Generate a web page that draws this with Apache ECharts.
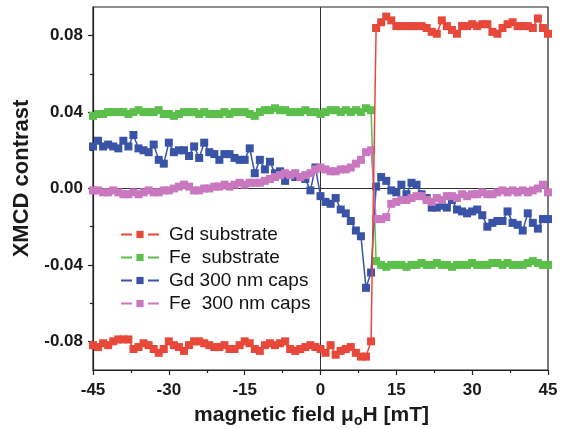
<!DOCTYPE html>
<html>
<head>
<meta charset="utf-8">
<script src="https://cdn.jsdelivr.net/npm/echarts@6/dist/echarts.min.js"></script>
<style>
  html, body { margin: 0; padding: 0; background: #fff; }
  #chart { width: 569px; height: 429px; }
</style>
</head>
<body>
<div id="chart"></div>
<script>
// Applied field (mT)
const field = [
  -45, -44, -43, -42, -41, -40, -39, -38, -37, -36, -35, -34, -33, -32, -31, -30,
  -29, -28, -27, -26, -25, -24, -23, -22, -21, -20, -19, -18, -17, -16, -15, -14,
  -13, -12, -11, -10, -9, -8, -7, -6, -5, -4, -3, -2, -1, 0,
  1, 2, 3, 4, 5, 6, 7, 8, 9, 10, 11, 12, 13, 14, 15, 16,
  17, 18, 19, 20, 21, 22, 23, 24, 25, 26, 27, 28, 29, 30, 31, 32,
  33, 34, 35, 36, 37, 38, 39, 40, 41, 42, 43, 44, 45
];

// XMCD contrast, Gd edge, substrate
const gdSubstrate = [
  -0.082, -0.083, -0.081, -0.082, -0.080, -0.079, -0.079, -0.079, -0.084, -0.083, -0.081, -0.082, -0.084, -0.086, -0.084, -0.080,
  -0.082, -0.083, -0.085, -0.082, -0.080, -0.080, -0.081, -0.082, -0.083, -0.083, -0.082, -0.084, -0.084, -0.082, -0.080, -0.081,
  -0.084, -0.085, -0.082, -0.081, -0.082, -0.081, -0.080, -0.084, -0.085, -0.084, -0.083, -0.082, -0.083, -0.084,
  -0.086, -0.082, -0.087, -0.085, -0.084, -0.083, -0.086, -0.088, -0.088, -0.080, 0.084, 0.087, 0.090, 0.088, 0.085, 0.085,
  0.085, 0.085, 0.085, 0.085, 0.084, 0.082, 0.081, 0.088, 0.085, 0.083, 0.081, 0.085, 0.085, 0.086, 0.085, 0.086,
  0.086, 0.082, 0.081, 0.084, 0.086, 0.087, 0.085, 0.085, 0.085, 0.084, 0.089, 0.084, 0.081
];

// XMCD contrast, Fe edge, substrate
const feSubstrate = [
  0.038, 0.039, 0.039, 0.040, 0.040, 0.040, 0.040, 0.039, 0.040, 0.041, 0.040, 0.040, 0.040, 0.041, 0.039, 0.039,
  0.038, 0.039, 0.040, 0.040, 0.040, 0.039, 0.040, 0.039, 0.039, 0.039, 0.040, 0.039, 0.040, 0.040, 0.040, 0.039,
  0.038, 0.040, 0.041, 0.041, 0.042, 0.041, 0.041, 0.040, 0.040, 0.040, 0.041, 0.040, 0.040, 0.039,
  0.040, 0.041, 0.041, 0.040, 0.041, 0.040, 0.041, 0.040, 0.042, 0.041, -0.038, -0.040, -0.041, -0.040, -0.040, -0.040,
  -0.041, -0.040, -0.040, -0.039, -0.040, -0.040, -0.039, -0.040, -0.040, -0.041, -0.040, -0.040, -0.040, -0.039, -0.040, -0.040,
  -0.040, -0.039, -0.039, -0.040, -0.039, -0.040, -0.040, -0.040, -0.039, -0.038, -0.039, -0.040, -0.040
];

// XMCD contrast, Gd edge, 300 nm caps
const gdCaps = [
  0.022, 0.025, 0.022, 0.023, 0.022, 0.021, 0.025, 0.022, 0.028, 0.021, 0.020, 0.019, 0.023, 0.015, 0.013, 0.024,
  0.019, 0.020, 0.020, 0.017, 0.022, 0.016, 0.024, 0.019, 0.018, 0.015, 0.018, 0.018, 0.016, 0.015, 0.015, 0.021,
  0.008, 0.015, 0.010, 0.014, 0.008, 0.009, 0.004, 0.007, 0.006, 0.006, 0.005, -0.001, 0.011, -0.004,
  -0.007, -0.008, -0.005, -0.011, -0.013, -0.017, -0.022, -0.025, -0.052, -0.044, 0.001, 0.006, 0.004, -0.001, -0.002, 0.002,
  -0.003, 0.003, 0.002, -0.003, -0.005, -0.010, -0.010, -0.009, -0.010, -0.006, -0.011, -0.012, -0.013, -0.012, -0.011, -0.014,
  -0.020, -0.018, -0.017, -0.017, -0.012, -0.018, -0.019, -0.022, -0.013, -0.018, -0.021, -0.016, -0.016
];

// XMCD contrast, Fe edge, 300 nm caps
const feCaps = [
  -0.001, -0.001, -0.002, -0.002, -0.001, -0.002, -0.003, -0.003, -0.002, -0.003, -0.002, -0.001, -0.002, -0.002, -0.001, -0.001,
  0.000, 0.001, 0.002, 0.001, -0.001, -0.001, 0.000, 0.000, 0.001, 0.001, 0.002, 0.001, 0.002, 0.003, 0.002, 0.003,
  0.003, 0.003, 0.004, 0.005, 0.006, 0.007, 0.008, 0.007, 0.008, 0.006, 0.007, 0.008, 0.010, 0.011,
  0.010, 0.009, 0.009, 0.010, 0.010, 0.011, 0.013, 0.015, 0.019, 0.020, -0.016, -0.016, -0.015, -0.008, -0.007, -0.006,
  -0.006, -0.005, -0.004, -0.004, -0.006, -0.007, -0.005, -0.006, -0.004, -0.004, -0.005, -0.003, -0.004, -0.003, -0.003, -0.002,
  -0.003, -0.003, -0.002, -0.001, -0.002, -0.001, -0.002, -0.001, -0.002, -0.001, 0.000, 0.002, -0.002
];

const seriesNames = ['Gd substrate', 'Fe  substrate', 'Gd 300 nm caps', 'Fe  300 nm caps'];
const seriesColors = ['#e8483a', '#5cbf4b', '#3953a6', '#c978c0'];
const xTicks = [-45, -30, -15, 0, 15, 30, 45];
const yTicks = [-0.08, -0.04, 0.00, 0.04, 0.08];
const yMinorTicks = [-0.06, -0.02, 0.02, 0.06];

const pairs = vals => field.map((f, i) => [f, vals[i]]);
const allValues = [gdSubstrate, feSubstrate, gdCaps, feCaps];

const FONT = '"Liberation Sans", Arial, sans-serif';

const series = allValues.map((vals, k) => ({
  name: seriesNames[k],
  type: 'line',
  data: pairs(vals),
  symbol: 'rect',
  symbolSize: 8,
  showSymbol: true,
  z: k === 0 ? 6 : 2 + k,
  itemStyle: { color: seriesColors[k] },
  lineStyle: { color: seriesColors[k], width: 1.5 },
  emphasis: { disabled: true }
}));

// thin zero lines across the plot
series[3].markLine = {
  silent: true,
  symbol: 'none',
  label: { show: false },
  lineStyle: { color: '#333', width: 1, type: 'solid' },
  data: [{ xAxis: 0 }, { yAxis: 0 }],
  z: 1
};

const chart = echarts.init(document.getElementById('chart'), null, { renderer: 'canvas' });
chart.setOption({
  animation: false,
  backgroundColor: '#fff',
  grid: {
    left: 93, right: 21, top: 7, bottom: 59,
    outerBoundsMode: 'none',
    containLabel: false,
    show: true, borderColor: '#222', borderWidth: 1.2, backgroundColor: 'transparent'
  },
  legend: {
    orient: 'vertical',
    left: 115,
    top: 220,
    itemWidth: 38,
    itemHeight: 9,
    itemGap: 4,
    data: seriesNames,
    lineStyle: { width: 2, type: [11, 16] },
    textStyle: { fontFamily: FONT, fontSize: 19, color: '#111', lineHeight: 19, padding: [0, 0, 0, 5] }
  },
  xAxis: {
    type: 'value',
    min: -45, max: 45, interval: 15,
    name: 'magnetic field μ{s|o}H [mT]',
    nameLocation: 'middle',
    nameGap: 32,
    nameTextStyle: {
      fontFamily: FONT, fontSize: 21, fontWeight: 'bold', color: '#1a1a1a',
      padding: [0, 18, 0, 0],
      rich: { s: { fontFamily: FONT, fontSize: 14, fontWeight: 'bold', color: '#1a1a1a', padding: [12, 0, 0, 0] } }
    },
    axisLine: { onZero: false, lineStyle: { color: '#222', width: 1.2 } },
    axisTick: { show: true, inside: false, length: 5, lineStyle: { color: '#222', width: 1.2 } },
    minorTick: { show: true, splitNumber: 2, length: 3, lineStyle: { color: '#222', width: 1.2 } },
    axisLabel: {
      margin: 12,
      fontFamily: FONT, fontSize: 17, fontWeight: 'bold', color: '#1a1a1a',
      formatter: v => String(v)
    },
    splitLine: { show: false }
  },
  yAxis: [{
    type: 'value',
    min: -0.095, max: 0.095,
    name: 'XMCD contrast',
    nameLocation: 'middle',
    nameRotate: 90,
    nameGap: 53,
    nameTextStyle: {
      fontFamily: FONT, fontSize: 22, fontWeight: 'bold', color: '#1a1a1a',
      padding: [0, 0, 0, 20]
    },
    axisLine: { onZero: false, lineStyle: { color: '#222', width: 1.2 } },
    axisTick: { show: true, inside: false, length: 5, customValues: yTicks, lineStyle: { color: '#222', width: 1.2 } },
    axisLabel: {
      margin: 10,
      customValues: yTicks,
      fontFamily: FONT, fontSize: 17, fontWeight: 'bold', color: '#1a1a1a',
      formatter: v => v.toFixed(2)
    },
    splitLine: { show: false }
  }, {
    // minor ticks on the left axis
    type: 'value',
    position: 'left',
    min: -0.095, max: 0.095,
    axisLine: { show: false, onZero: false },
    axisTick: { show: true, inside: false, length: 3, customValues: yMinorTicks, lineStyle: { color: '#222', width: 1.2 } },
    axisLabel: { show: false },
    splitLine: { show: false }
  }],
  series: series
});
</script>
</body>
</html>
